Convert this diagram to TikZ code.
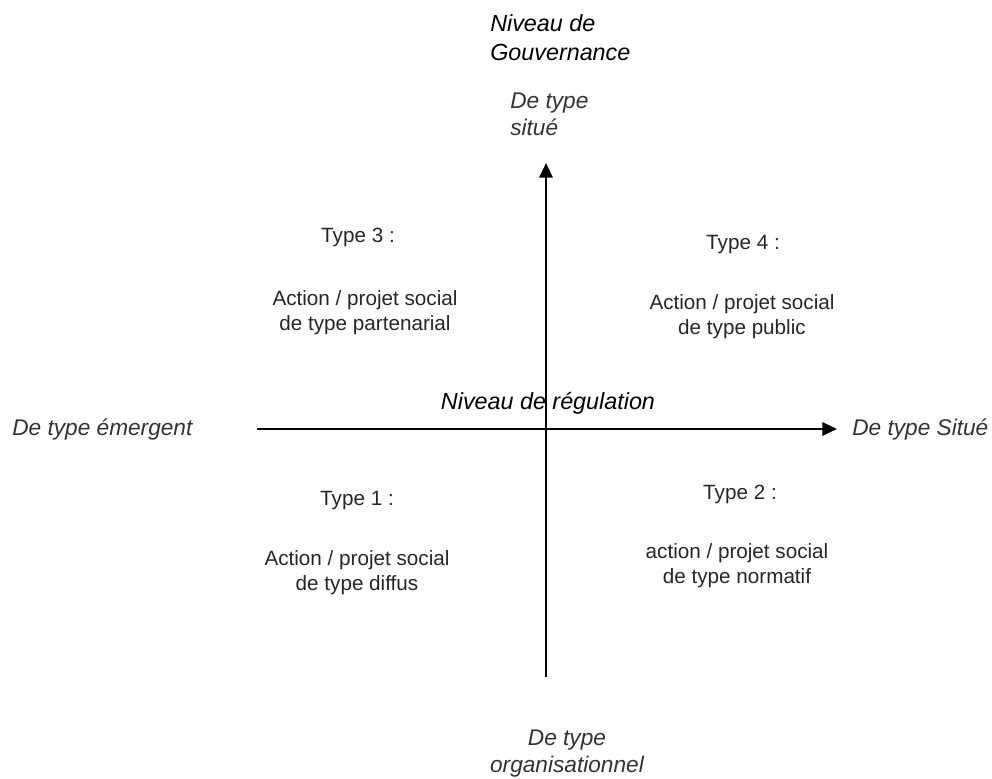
\documentclass[tikz,border=0pt]{standalone}
\usepackage{fontspec}
\setmainfont{Liberation Sans}
\usetikzlibrary{arrows.meta}

\tikzset{
  axis/.style={draw, line width=1.5pt, -{Triangle[length=11pt,width=10pt]}},
  axistitle/.style={font=\fontsize{17.5}{21}\selectfont\itshape, inner sep=0pt},
  axislabel/.style={font=\fontsize{17}{20}\selectfont\itshape, inner sep=0pt, text=black!80},
  typelabel/.style={font=\fontsize{15.5}{18.75}\selectfont, inner sep=0pt, text=black!85, align=center},
}

\begin{document}
\begin{tikzpicture}[x=0.75pt, y=-0.75pt]
\useasboundingbox (0,0) rectangle (992,778);

% axes
\coordinate (left) at (257,429);
\coordinate (right) at (837,429);
\coordinate (bottom) at (546,677);
\coordinate (top) at (546,163);

\path[axis] (left) -- (right);
\path[axis] (bottom) -- (top);

% axis labels
\node[axistitle, anchor=base west, align=left] (gouv) at (490,60) {Niveau de\\Gouvernance};
\node[axislabel, anchor=base west, align=left] (situe) at (510,135) {De type\\situé};
\node[axislabel, anchor=base, align=center] (orga) at (567,772) {De type\\organisationnel};
\node[axislabel, anchor=base west] (emergent) at (12,435) {De type émergent};
\node[axislabel, anchor=base west] (situeH) at (852,435) {De type Situé};
\node[axistitle, anchor=base] (regul) at (548,409) {Niveau de régulation};

% quadrants
\node[typelabel, anchor=base] (t3) at (358,242) {Type 3 :};
\node[typelabel, anchor=base] (a3) at (365,330) {Action / projet social\\de type partenarial};
\node[typelabel, anchor=base] (t4) at (743,249) {Type 4 :};
\node[typelabel, anchor=base] (a4) at (742,334) {Action / projet social\\de type public};
\node[typelabel, anchor=base] (t1) at (357,505) {Type 1 :};
\node[typelabel, anchor=base] (a1) at (357,590) {Action / projet social\\de type diffus};
\node[typelabel, anchor=base] (t2) at (740,499) {Type 2 :};
\node[typelabel, anchor=base] (a2) at (737,583) {action / projet social\\de type normatif};
\end{tikzpicture}
\end{document}
